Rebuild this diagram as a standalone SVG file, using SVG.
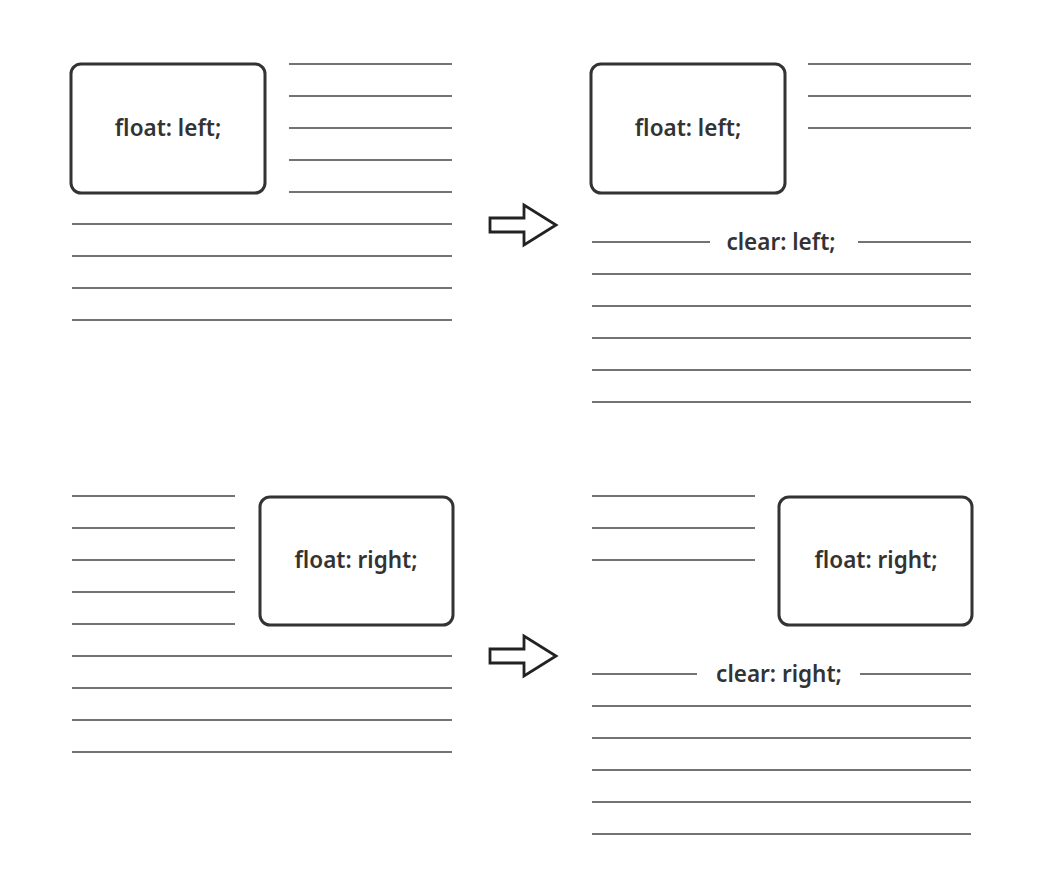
<svg xmlns="http://www.w3.org/2000/svg" width="1056" height="892" viewBox="0 0 1056 892">
<style>
.ln{stroke:#444;stroke-width:1.7;fill:none}
.box{fill:#fff;stroke:#333;stroke-width:3}
.t{font-family:"Noto Sans","Liberation Sans",sans-serif;font-size:22.5px;font-weight:600;fill:#333;text-anchor:middle;dominant-baseline:central}
.arr{fill:#fff;stroke:#222;stroke-width:2.8;stroke-linejoin:miter}
</style>
<defs>
<path id="arrow" d="M0,-7 H34 V-20 L66,0 L34,20 V7 H0 Z"/>
</defs>
<rect width="1056" height="892" fill="#fff"/>
<g id="panel-top-left">
<g class="ln">
<line x1="289" y1="64" x2="452" y2="64"/><line x1="289" y1="96" x2="452" y2="96"/><line x1="289" y1="128" x2="452" y2="128"/><line x1="289" y1="160" x2="452" y2="160"/><line x1="289" y1="192" x2="452" y2="192"/>
<line x1="72" y1="224" x2="452" y2="224"/><line x1="72" y1="256" x2="452" y2="256"/><line x1="72" y1="288" x2="452" y2="288"/><line x1="72" y1="320" x2="452" y2="320"/>
</g>
<g id="box-float-left-1"><rect class="box" x="71" y="64" width="194" height="129" rx="10"/><text class="t" x="168" y="127">float: left;</text></g>
</g>
<g id="panel-top-right">
<g class="ln">
<line x1="808" y1="64" x2="971" y2="64"/><line x1="808" y1="96" x2="971" y2="96"/><line x1="808" y1="128" x2="971" y2="128"/>
<line x1="592" y1="242" x2="710" y2="242"/><line x1="858" y1="242" x2="971" y2="242"/>
<line x1="592" y1="274" x2="971" y2="274"/><line x1="592" y1="306" x2="971" y2="306"/><line x1="592" y1="338" x2="971" y2="338"/><line x1="592" y1="370" x2="971" y2="370"/><line x1="592" y1="402" x2="971" y2="402"/>
</g>
<g id="box-float-left-2"><rect class="box" x="591" y="64" width="194" height="129" rx="10"/><text class="t" x="688" y="127">float: left;</text></g>
<text class="t" x="781" y="241">clear: left;</text>
</g>
<g id="panel-bottom-left">
<g class="ln">
<line x1="72" y1="496" x2="235" y2="496"/><line x1="72" y1="528" x2="235" y2="528"/><line x1="72" y1="560" x2="235" y2="560"/><line x1="72" y1="592" x2="235" y2="592"/><line x1="72" y1="624" x2="235" y2="624"/>
<line x1="72" y1="656" x2="452" y2="656"/><line x1="72" y1="688" x2="452" y2="688"/><line x1="72" y1="720" x2="452" y2="720"/><line x1="72" y1="752" x2="452" y2="752"/>
</g>
<g id="box-float-right-1"><rect class="box" x="260" y="497" width="193" height="128" rx="10"/><text class="t" x="356" y="559">float: right;</text></g>
</g>
<g id="panel-bottom-right">
<g class="ln">
<line x1="592" y1="496" x2="755" y2="496"/><line x1="592" y1="528" x2="755" y2="528"/><line x1="592" y1="560" x2="755" y2="560"/>
<line x1="592" y1="674" x2="697" y2="674"/><line x1="860" y1="674" x2="971" y2="674"/>
<line x1="592" y1="706" x2="971" y2="706"/><line x1="592" y1="738" x2="971" y2="738"/><line x1="592" y1="770" x2="971" y2="770"/><line x1="592" y1="802" x2="971" y2="802"/><line x1="592" y1="834" x2="971" y2="834"/>
</g>
<g id="box-float-right-2"><rect class="box" x="779" y="497" width="193" height="128" rx="10"/><text class="t" x="876" y="559">float: right;</text></g>
<text class="t" x="779" y="673">clear: right;</text>
</g>
<g id="connectors">
<use href="#arrow" class="arr" x="490" y="225"/>
<use href="#arrow" class="arr" x="490" y="656"/>
</g>
</svg>
